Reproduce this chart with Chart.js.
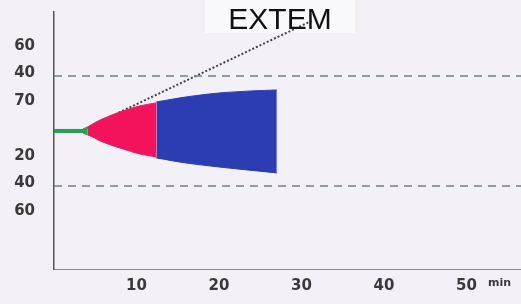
<!DOCTYPE html>
<html>
<head>
<meta charset="utf-8">
<script src="https://cdn.jsdelivr.net/npm/chart.js@4"></script>
<style>
  html, body { margin:0; padding:0; background:#f3f1f7; }
  #wrap { width:521px; height:304px; position:relative; }
</style>
</head>
<body>
<div id="wrap"><canvas id="chart-extem"></canvas></div>
<script>
// ─── DATA ─────────────────────────────────────────────────────────────────────
const TITLE = 'EXTEM';
const xTickValues = [10, 20, 30, 40, 50, 54];
const xTickLabels = ['10', '20', '30', '40', '50', 'min'];
const yTickValues = [62, 42, 22, -18, -38, -58];
const yTickLabels = ['60', '40', '70', '20', '40', '60'];
const refLines = [40, -40];

// baseline (min, amplitude)
const baseT = [0, 3.6];
const baseA = [0, 0];
// green tip
const tipT = [3.5, 4.1];
const tipUpper = [1.5, 2.9];
const tipLower = [-1.5, -2.9];
// red part (CT -> alpha)
const redT = [4.1, 4.9, 5.6, 8.0, 10.4, 12.4];
const redUpper = [2.9, 5.8, 8.0, 13.8, 18.2, 20.4];
const redLower = [-2.9, -5.0, -7.3, -12.4, -16.7, -18.9];
// blue part
const blueT = [12.4, 16, 20, 24, 27.0];
const blueUpper = [21.1, 24.7, 27.6, 29.1, 29.8];
const blueLower = [-19.6, -23.3, -26.2, -28.7, -30.5];
// alpha tangent (dotted)
const tanT = [3.9, 31.2];
const tanA = [2, 80];

const pts = (ts, ys) => ts.map((t, i) => ({ x: t, y: ys[i] }));

// ─── PLUGINS ──────────────────────────────────────────────────────────────────
const titlePlugin = {
  id: 'extemTitle',
  beforeDatasetsDraw(chart) {
    const c = chart.ctx;
    c.save();
    c.fillStyle = '#f9f8fb';
    c.fillRect(205, 0, 150, 33);
    c.restore();
  },
  afterDatasetsDraw(chart) {
    const c = chart.ctx;
    c.save();
    c.fillStyle = '#111';
    c.font = '30px "Liberation Sans", Arial, sans-serif';
    c.textAlign = 'center';
    c.textBaseline = 'alphabetic';
    c.fillText(TITLE, 280, 29);
    c.restore();
  }
};

// ─── CHART ────────────────────────────────────────────────────────────────────
const area = (data, color, fill) => ({
  data, fill, backgroundColor: color, borderColor: color, borderWidth: 1, pointRadius: 0, tension: 0.3
});

const xMax = 56.6;
const datasets = [
  // reference dashed lines
  ...refLines.map(v => ({
    data: pts([0, xMax], [v, v]), borderColor: '#6e8282', borderWidth: 1.5,
    borderDash: [8, 6], pointRadius: 0, fill: false
  })),
  area(pts(redT, redUpper), '#f3125c', '+1'),
  area(pts(redT, redLower), '#f3125c', false),
  area(pts(blueT, blueUpper), '#2c3db4', '+1'),
  area(pts(blueT, blueLower), '#2c3db4', false),
  area(pts(tipT, tipUpper), '#24a050', '+1'),
  area(pts(tipT, tipLower), '#24a050', false),
  { data: pts(baseT, baseA), borderColor: '#24a050', borderWidth: 4, pointRadius: 0, fill: false },
  { data: pts(tanT, tanA), borderColor: '#444', borderWidth: 2, borderDash: [2, 2], pointRadius: 0, fill: false }
];

const tickFont = { family: 'DejaVu Sans', size: 15, weight: 'bold' };

new Chart(document.getElementById('chart-extem').getContext('2d'), {
  type: 'line',
  data: { datasets },
  plugins: [titlePlugin],
  options: {
    responsive: true, maintainAspectRatio: false, animation: false,
    layout: { padding: { top: 12, right: 0, left: 0, bottom: 0 } },
    plugins: { legend: { display: false }, tooltip: { enabled: false } },
    scales: {
      x: {
        type: 'linear', min: 0, max: xMax,
        afterFit: s => { s.height = 35; s.paddingLeft = 0; s.paddingRight = 0; },
        afterBuildTicks: s => { s.ticks = xTickValues.map(v => ({ value: v })); },
        grid: { display: false, drawTicks: false },
        border: { display: true, color: '#8c8c90', width: 1 },
        ticks: {
          autoSkip: false, maxRotation: 0, padding: 8, color: '#3a3a3a',
          font: ctx => ctx.index === 5 ? { family: 'DejaVu Sans', size: 11, weight: 'bold' } : tickFont,
          callback: (v, i) => xTickLabels[i]
        }
      },
      y: {
        type: 'linear', min: -100.4, max: 86.5,
        afterFit: s => { s.width = 54; s.paddingTop = 0; s.paddingBottom = 0; },
        afterBuildTicks: s => { s.ticks = yTickValues.map(v => ({ value: v })); },
        grid: { display: false, drawTicks: false },
        border: { display: true, color: '#555', width: 1.5 },
        ticks: {
          autoSkip: false, padding: 19, color: '#3a3a3a', font: tickFont,
          callback: (v, i) => yTickLabels[i]
        }
      }
    }
  }
});
</script>
</body>
</html>
